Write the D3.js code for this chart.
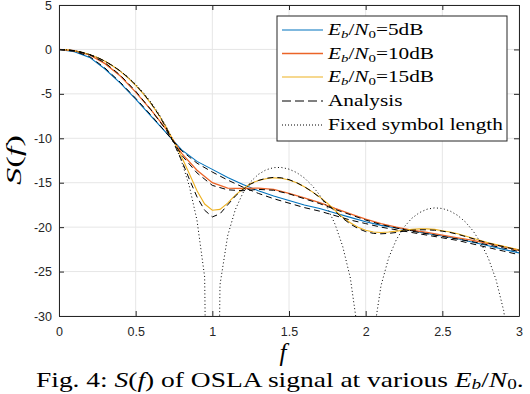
<!DOCTYPE html>
<html>
<head>
<meta charset="utf-8">
<script src="https://cdn.jsdelivr.net/npm/d3@7"></script>
<style>
  html, body { margin: 0; padding: 0; background: #fff; }
  svg { display: block; }
</style>
</head>
<body>
<svg id="chart" width="530" height="394"></svg>
<script>
// ---------------- data ----------------
const fFine = [0,0.05,0.1,0.15,0.2,0.25,0.3,0.35,0.4,0.45,0.5,0.55,0.6,0.65,0.7,0.75,0.8,0.85,0.9,0.95,
  1,1.05,1.1,1.15,1.2,1.25,1.3,1.35,1.4,1.45,1.5,1.55,1.6,1.65,1.7,1.75,1.8,1.85,1.9,1.95,
  2,2.05,2.1,2.15,2.2,2.25,2.3,2.35,2.4,2.45,2.5,2.55,2.6,2.65,2.7,2.75,2.8,2.85,2.9,2.95,3];
const fCoarse = [0,0.1,0.2,0.3,0.4,0.5,0.6,0.7,0.8,0.9,1,1.1,1.2,1.3,1.4,1.5,1.6,1.7,1.8,1.9,
  2,2.1,2.2,2.3,2.4,2.5,2.6,2.7,2.8,2.9,3];

const sim5dB = [0,-0.25,-0.9,-2.2,-3.8,-5.6,-7.5,-9.4,-11.3,-12.6,-13.5,-14.4,-15.2,-15.9,-16.5,-17.0,
  -17.5,-17.9,-18.4,-18.9,-19.4,-19.8,-20.1,-20.4,-20.7,-21.0,-21.3,-21.7,-22.1,-22.5,-22.9];
const sim10dB = [0,-0.15,-0.62,-1.6,-3.0,-4.8,-6.8,-9.0,-11.7,-13.6,-15.0,-15.6,-15.65,-15.6,-15.75,-16.2,
  -16.7,-17.25,-17.9,-18.5,-19.1,-19.6,-20.0,-20.35,-20.6,-20.9,-21.2,-21.5,-21.85,-22.2,-22.6];
const sim15dB = [0,-0.04,-0.14,-0.32,-0.58,-0.92,-1.34,-1.86,-2.47,-3.2,-4.05,-5.0,-6.1,-7.35,-8.8,-10.4,
  -12.1,-14.0,-15.9,-17.4,-18.1,-18.0,-17.3,-16.4,-15.7,-15.1,-14.75,-14.55,-14.45,-14.5,-14.7,-15.0,
  -15.45,-16.0,-16.6,-17.3,-18.1,-18.9,-19.5,-20.0,-20.35,-20.55,-20.6,-20.55,-20.45,-20.35,-20.25,-20.2,
  -20.2,-20.25,-20.4,-20.55,-20.75,-21.0,-21.25,-21.5,-21.75,-21.95,-22.15,-22.35,-22.55];

const ana5dB = [0,-0.2,-0.8,-2.1,-3.7,-5.5,-7.4,-9.4,-11.4,-12.8,-13.8,-14.7,-15.5,-16.2,-16.8,-17.3,
  -17.8,-18.2,-18.7,-19.2,-19.6,-20.0,-20.3,-20.6,-20.9,-21.2,-21.5,-21.9,-22.3,-22.7,-23.1];
const ana10dB = [0,-0.13,-0.58,-1.5,-2.9,-4.7,-6.8,-9.1,-11.9,-13.9,-15.3,-15.8,-15.9,-15.75,-15.85,-16.25,
  -16.8,-17.35,-18.0,-18.6,-19.2,-19.7,-20.1,-20.45,-20.75,-21.05,-21.35,-21.65,-22.0,-22.35,-22.75];
const ana15dB = [0,-0.04,-0.14,-0.32,-0.58,-0.9,-1.32,-1.83,-2.43,-3.15,-4.0,-4.95,-6.05,-7.35,-8.85,-10.6,
  -12.5,-14.6,-16.6,-18.1,-18.85,-18.5,-17.5,-16.5,-15.75,-15.15,-14.75,-14.5,-14.4,-14.45,-14.65,-15.0,
  -15.45,-16.0,-16.65,-17.4,-18.2,-19.0,-19.65,-20.15,-20.5,-20.7,-20.75,-20.7,-20.6,-20.45,-20.35,-20.3,
  -20.3,-20.35,-20.45,-20.6,-20.8,-21.05,-21.3,-21.55,-21.8,-22.0,-22.2,-22.4,-22.6];

const fixedLen = [0,-0.04,-0.14,-0.32,-0.58,-0.91,-1.33,-1.83,-2.42,-3.12,-3.92,-4.86,-5.94,-7.2,-8.69,-10.45,
  -12.62,-15.39,-19.23,-25.61,-100,-26.48,-20.97,-18.02,-16.14,-14.89,-14.06,-13.55,-13.3,-13.28,-13.47,-13.86,
  -14.46,-15.3,-16.39,-17.81,-19.66,-22.15,-25.72,-31.86,-100,-32.29,-26.59,-23.45,-21.41,-20.0,-19.02,-18.37,
  -17.98,-17.83,-17.9,-18.18,-18.68,-19.41,-20.41,-21.74,-23.5,-25.9,-29.39,-35.45,-100];

const xTicks = [0,0.5,1,1.5,2,2.5,3];
const xTickLabels = ["0","0.5","1","1.5","2","2.5","3"];
const yTicks = [-30,-25,-20,-15,-10,-5,0,5];
const yTickLabels = ["-30","-25","-20","-15","-10","-5","0","5"];

const legendNames = ["5dB","10dB","15dB","Analysis","Fixed symbol length"];

// ---------------- layout ----------------
const svg = d3.select("#chart");
const L = 59, R = 519, T = 5, B = 316;
const x = d3.scaleLinear().domain([0,3]).range([L,R]);
const y = d3.scaleLinear().domain([-30,5]).range([B,T]);
const axisColor = "#262626";
const serif = "'Liberation Serif', 'Times New Roman', serif";
const sans = "'Liberation Sans', Arial, Helvetica, sans-serif";

function stretchX(sel, target, ax, ay){
  const w = sel.node().getComputedTextLength();
  const s = target / w;
  sel.attr("transform", `translate(${ax},${ay||0}) scale(${s},1) translate(${-ax},${-(ay||0)})`);
  return s;
}

// grid
const grid = svg.append("g").attr("stroke","#e6e6e6").attr("stroke-width",1);
xTicks.forEach(t => grid.append("line").attr("x1",x(t)).attr("x2",x(t)).attr("y1",T).attr("y2",B));
yTicks.forEach(t => grid.append("line").attr("x1",L).attr("x2",R).attr("y1",y(t)).attr("y2",y(t)));

// clip
svg.append("defs").append("clipPath").attr("id","clip")
  .append("rect").attr("x",L).attr("y",T).attr("width",R-L).attr("height",B-T);

const plot = svg.append("g").attr("clip-path","url(#clip)");
const line = d3.line().x(d => x(d[0])).y(d => y(d[1]));
function zip(fs, vs){ return fs.map((f,i)=>[f, vs[i]]); }

const series = [
  {fs: fCoarse, vs: sim5dB, color:"rgb(0,114,189)", dash:null, w:1.1},
  {fs: fCoarse, vs: sim10dB, color:"rgb(235,100,40)", dash:null, w:1.3},
  {fs: fFine, vs: sim15dB, color:"rgb(237,177,32)", dash:null, w:1.1},
  {fs: fCoarse, vs: ana5dB, color:"#000000", dash:"6,4", w:1},
  {fs: fCoarse, vs: ana10dB, color:"#000000", dash:"6,4", w:1},
  {fs: fFine, vs: ana15dB, color:"#000000", dash:"6,4", w:1},
  {fs: fFine, vs: fixedLen, color:"#000000", dash:"1,2.5", w:1}
];
series.forEach(s => {
  const p = plot.append("path").datum(zip(s.fs, s.vs))
    .attr("d", line).attr("fill","none").attr("stroke", s.color)
    .attr("stroke-width", s.w);
  if (s.dash) p.attr("stroke-dasharray", s.dash);
});

// axes
function styleAxis(g){
  g.select(".domain").attr("stroke", axisColor).attr("stroke-width",1);
  g.selectAll(".tick line").attr("stroke", axisColor);
  g.selectAll("text").attr("fill", axisColor).attr("font-family", sans).attr("font-size", 12.5);
}
svg.append("g").attr("transform",`translate(0,${B})`)
  .call(d3.axisBottom(x).tickValues(xTicks).tickFormat((d,i)=>xTickLabels[i]).tickSize(-5).tickSizeOuter(0).tickPadding(11))
  .call(styleAxis);
svg.append("g").attr("transform",`translate(${L},0)`)
  .call(d3.axisLeft(y).tickValues(yTicks).tickFormat((d,i)=>yTickLabels[i]).tickSize(-5).tickSizeOuter(0).tickPadding(7))
  .call(styleAxis);
svg.append("g").attr("transform",`translate(0,${T})`)
  .call(d3.axisTop(x).tickValues(xTicks).tickFormat("").tickSize(-5).tickSizeOuter(0))
  .call(styleAxis);
svg.append("g").attr("transform",`translate(${R},0)`)
  .call(d3.axisRight(y).tickValues(yTicks).tickFormat("").tickSize(-5).tickSizeOuter(0))
  .call(styleAxis);

// y axis label
const ylg = svg.append("g").attr("transform","translate(20.5,160) rotate(-90)");
const yl = ylg.append("text").attr("x",0).attr("y",0)
  .attr("text-anchor","middle").attr("font-family",serif).attr("font-size",22).attr("fill","#000");
yl.append("tspan").attr("font-style","italic").text("S");
yl.append("tspan").text("(");
yl.append("tspan").attr("font-style","italic").text("f");
yl.append("tspan").text(")");
stretchX(yl, 50, 0, 0);

// x axis label
svg.append("text").attr("x", 283).attr("y", 361).attr("text-anchor","middle")
  .attr("font-family",serif).attr("font-size",25).attr("font-style","italic").attr("fill","#000").text("f");

// legend
const lg = svg.append("g");
lg.append("rect").attr("x",277).attr("y",16).attr("width",230).attr("height",125)
  .attr("fill","#fff").attr("stroke",axisColor).attr("stroke-width",1);
const rowsY = [30,53.5,77,101,125];
const legFont = 16;
function ebn0(t, suffix){
  t.append("tspan").attr("font-style","italic").text("E");
  t.append("tspan").attr("font-style","italic").attr("font-size","0.7em").attr("dy",3).text("b");
  t.append("tspan").attr("dy",-3).text("/");
  t.append("tspan").attr("font-style","italic").text("N");
  t.append("tspan").attr("font-size","0.7em").attr("dy",3).text("0");
  t.append("tspan").attr("dy",-3).text("=" + suffix);
}
const legendSeries = [series[0], series[1], series[2], series[3], series[6]];
const legTexts = [];
legendSeries.forEach((s,i) => {
  const yy = rowsY[i];
  const ln = lg.append("line").attr("x1",282).attr("x2",323).attr("y1",yy).attr("y2",yy)
    .attr("stroke", s.color).attr("stroke-width", s.w);
  if (s.dash) ln.attr("stroke-dasharray", s.dash === "6,4" ? "9,4" : "1,2");
  const t = lg.append("text").attr("x",328).attr("y",yy+5.5)
    .attr("font-family",serif).attr("font-size",legFont).attr("fill","#000");
  if (i < 3) ebn0(t, legendNames[i]); else t.text(legendNames[i]);
  legTexts.push(t);
});
// common horizontal scale set by the widest entry
const wFixed = legTexts[4].node().getComputedTextLength();
const legScale = 175 / wFixed;
legTexts.forEach(t => t.attr("transform", `translate(328,0) scale(${legScale},1) translate(-328,0)`));

// caption
const cap = svg.append("text").attr("x",36).attr("y",387)
  .attr("font-family",serif).attr("font-size",21.5).attr("fill","#000");
cap.append("tspan").text("Fig. 4: ");
cap.append("tspan").attr("font-style","italic").text("S");
cap.append("tspan").text("(");
cap.append("tspan").attr("font-style","italic").text("f");
cap.append("tspan").text(") of OSLA signal at various ");
cap.append("tspan").attr("font-style","italic").text("E");
cap.append("tspan").attr("font-style","italic").attr("font-size","0.7em").attr("dy",2.5).text("b");
cap.append("tspan").attr("dy",-2.5).text("/");
cap.append("tspan").attr("font-style","italic").text("N");
cap.append("tspan").attr("font-size","0.7em").attr("dy",2.5).text("0");
cap.append("tspan").attr("dy",-2.5).text(".");
stretchX(cap, 488, 36, 0);
</script>
</body>
</html>
